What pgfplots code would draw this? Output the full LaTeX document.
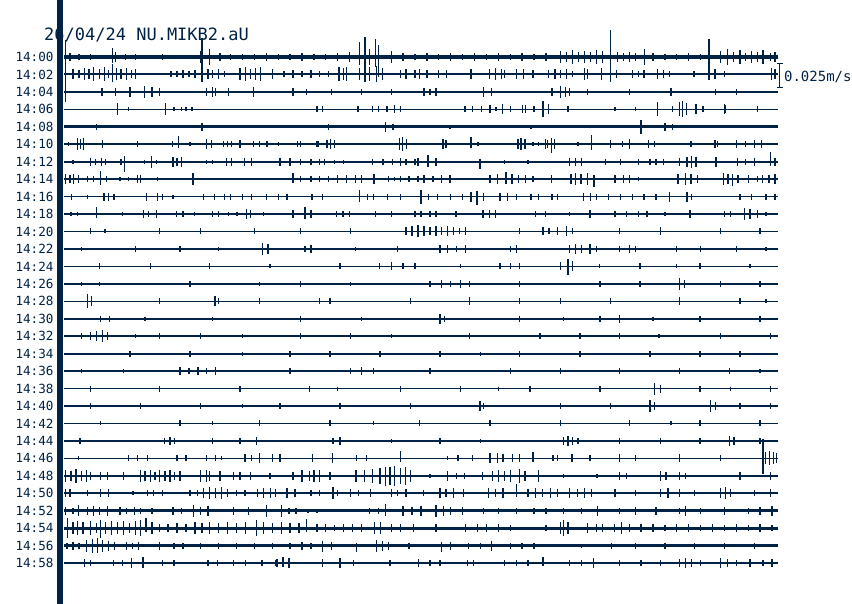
\documentclass[border=0pt]{standalone}
\usepackage{pgfplots}
\pgfplotsset{compat=1.18}
\usepackage{pgfplotstable}
\usepackage{fontspec}
\newfontfamily\mono{DejaVu Sans Mono}
\definecolor{navy}{HTML}{002244}

% spikes: x = seconds within 2-min row, r = row, a = half amplitude in mm/s (0.025 m/s = 25)
\pgfplotstableread{
x r a
1.0 0 4
2.5 0 3
4.4 0 3
8.6 0 5
10.3 0 3
12 0 3
14 0 2
16.5 0 3
19 0 2
22.9 0 6
24.5 0 8
26.2 0 4
28 0 3
30 0 3
32 0 3
34 0 4
36 0 3
38 0 3
40 0 4
42 0 3
44 0 3
46 0 4
48 0 5
51.4 0 8
55.1 0 6
57 0 4
59 0 3
61 0 4
63 0 3
65 0 4
67 0 3
69 0 4
71 0 3
73 0 4
75 0 3
77 0 4
79 0 3
81 0 4
83.5 0 6
84.5 0 5
85.5 0 7
86.5 0 5
87.5 0 6
88.5 0 5
89.5 0 7
90.5 0 6
93 0 5
94 0 4
95 0 5
96 0 4
97.6 0 8
99 0 4
101 0 3
103 0 3
105 0 4
107 0 3
110.3 0 6
111.5 0 8
112.5 0 5
113.6 0 7
114.5 0 4
115.5 0 6
116.5 0 5
117.5 0 7
118.7 0 4
119.5 0 5
1.5 1 5
2.5 1 4
3.5 1 6
4.2 1 5
5 1 7
6 1 5
6.8 1 7
7.5 1 4
8.8 1 6
9.6 1 5
10.5 1 6
11.3 1 4
12 1 5
18 1 3
19 1 3
20 1 4
21 1 3
22 1 4
24.2 1 5
25 1 4
26 1 5
27 1 3
29.6 1 6
30.5 1 7
31.3 1 5
32.2 1 6
33 1 7
35 1 5
37 1 3
38.5 1 4
40 1 3
41.5 1 4
43 1 3
44.5 1 3
46.2 1 7
47 1 6
47.5 1 7
49.7 1 6
50.6 1 8
51.4 1 7
52.5 1 8
53.5 1 6
56.5 1 4
57.5 1 5
59 1 4
59.8 1 5
61 1 4
63 1 4
64.3 1 4
68.4 1 5
71.5 1 5
72.5 1 6
73.5 1 5
74 1 4
76 1 5
77.2 1 5
78.8 1 4
81.4 1 4
82.5 1 5
83.5 1 4
84.5 1 5
85.5 1 3
87.5 1 6
88 1 5
90.3 1 6
92.8 1 4
95.5 1 4
96.5 1 3
97.5 1 4
99.7 1 5
100.7 1 4
101.8 1 3
105.9 1 3
109.4 1 5
111 1 3
118.9 1 6
119.5 1 5
6.4 2 4
8.6 2 4
11.1 2 5
13.5 2 6
14.8 2 5
16 2 4
24 2 4
25 2 5
25.5 2 4
27.6 2 4
31.8 2 5
38.5 2 4
40.8 2 3
45 2 3
50 2 3
55 2 3
60.5 2 4
61.5 2 3
62.5 2 4
70.5 2 5
71.8 2 4
82 2 4
83.5 2 6
84.3 2 5
85 2 4
88 2 3
95 2 3
102 2 4
109.5 2 3
113 2 3
9 3 6
10.8 3 2
17.1 3 6
18.5 3 2
19.8 3 2
20.5 3 2
21.5 3 2
42.5 3 3
43.5 3 3
49.4 3 3
51.8 3 3
52.8 3 3
54.3 3 3
55.5 3 4
56.5 3 3
67.4 3 3
68.7 3 3
70.2 3 3
71.6 3 4
72.6 3 2
73.7 3 5
75.1 3 3
77.1 3 4
77.6 3 4
79 3 3
80.5 3 8
81.4 3 5
84.7 3 3
92.6 3 2
96 3 2
99.8 3 7
102.3 3 3
103.5 3 7
104 3 8
104.6 3 6
106.2 3 5
107.4 3 3
111 3 5
111.2 3 4
116.6 3 3
5.5 4 3
23.2 4 4
44.4 4 3
54 4 5
55.3 4 3
64.9 4 2
78.5 4 2
97 4 7
101 4 4
102.3 4 3
0.7 5 2
2.3 5 6
2.8 5 5
3.3 5 6
6.5 5 4
12.4 5 3
18.2 5 3
21.2 5 2
24 5 5
24.8 5 4
26.8 5 3
27.5 5 3
28.2 5 3
29.6 5 4
31.8 5 3
32.9 5 3
34.1 5 3
36 5 2
39.3 5 3
39.7 5 3
42.5 5 3
42.7 5 3
44.2 5 4
44.8 5 5
45.5 5 4
56.4 5 6
56.9 5 7
57.6 5 5
63.7 5 5
64.2 5 4
69.6 5 2
76.3 5 5
76.8 5 6
77.5 5 5
78.8 5 2
79.7 5 2
80.9 5 5
81.3 5 4
82.4 5 5
86.4 5 2
91.9 5 4
93.9 5 3
95.1 5 5
98.2 5 4
99.3 5 3
105.4 5 3
109.4 5 4
109.8 5 3
113 5 4
114.5 5 3
116 5 4
117.2 5 4
1.5 6 2
4.5 6 4
5.3 6 3
6.3 6 4
7 6 3
9.6 6 3
13.5 6 2
14.7 6 6
15.5 6 2
18.3 6 5
19 6 4
19.7 6 5
24 6 2
24.9 6 2
27.3 6 4
28.1 6 4
30.3 6 4
31.5 6 4
36.3 6 4
38 6 4
39.7 6 3
41.5 6 3
43 6 3
43.8 6 3
45.5 6 2
47 6 2
51.9 6 3
53.6 6 3
55.2 6 3
56.5 6 4
57.5 6 3
59 6 3
59.5 6 4
62.5 6 4
74 6 2
78 6 2
85 6 4
86 6 4
87 6 4
91 6 3
93.5 6 3
96.5 6 3
98.5 6 3
99.5 6 3
100.7 6 3
103.5 6 4
104.7 6 5
105.5 6 6
106.2 6 5
109.6 6 5
113.2 6 4
114.5 6 3
116.1 6 4
119.5 6 4
0.2 7 5
1 7 4
1.6 7 5
2.4 7 4
3.9 7 3
5 7 3
7.2 7 3
9.4 7 2
10.8 7 2
12.4 7 4
12.9 7 4
15.7 7 2
21.7 7 6
39.8 7 3
41.5 7 3
43 7 3
44.5 7 3
46 7 4
47.5 7 4
49 7 4
50 7 4
52.1 7 5
54.5 7 3
55.5 7 2
56.5 7 3
58 7 3
59.5 7 3
60.5 7 4
62 7 3
63.5 7 4
64.9 7 4
71.6 7 4
72.8 7 5
75.3 7 5
76.4 7 4
77.6 7 4
78.8 7 3
81.9 7 4
85.2 7 5
86 7 6
86.9 7 5
88 7 6
92.6 7 4
94 7 4
95.1 7 4
96.5 7 2
103.2 7 5
104.4 7 6
105.4 7 5
106.5 7 4
110.8 7 6
111.6 7 5
113.3 7 4
115 7 4
116.5 7 3
117.4 7 4
118.5 7 4
119.5 7 5
1.3 8 3
3.9 8 2
6.7 8 4
7.5 8 4
8.4 8 3
13.9 8 4
15.7 8 4
16.5 8 3
18.3 8 2
23.5 8 3
25.3 8 3
27 8 3
28 8 3
30 8 3
31.5 8 3
34 8 3
36 8 3
37.5 8 3
41.7 8 3
43.5 8 3
51 8 3
52 8 3
54.4 8 3
56.5 8 3
60 8 7
61.3 8 3
62.8 8 3
65 8 3
67 8 3
68.4 8 5
70.5 8 4
73.3 8 4
74.5 8 4
76 8 3
78.5 8 3
79.7 8 3
82 8 3
83 8 3
87.3 8 4
88.5 8 4
89.5 8 3
91.5 8 3
93.5 8 3
95.5 8 3
97.5 8 3
99.5 8 3
101.8 8 5
104.7 8 5
105.5 8 3
113.6 8 3
115.5 8 3
118 8 3
119.5 8 3
1.2 9 2
2.3 9 2
9.8 9 2
13.4 9 4
14.2 9 3
15.5 9 4
18.9 9 3
20 9 3
21.9 9 2
25 9 3
26 9 3
27.7 9 2
29.1 9 2
30.7 9 5
31.3 9 4
33.5 9 2
38.5 9 4
41.5 9 4
45.8 9 3
46.9 9 3
48 9 3
52.3 9 3
55.1 9 3
59 9 3
60 9 3
61.5 9 3
62.5 9 3
65.9 9 3
70.4 9 4
71.5 9 4
72.5 9 4
79.3 9 3
80.9 9 3
85 9 2
88.4 9 4
92.6 9 3
94.5 9 3
96.5 9 3
98 9 3
101 9 2
105.2 9 4
111 9 3
112 9 3
115.3 9 5
116.5 9 4
118 9 2
4.4 10 3
6.9 10 2
16.1 10 3
22.9 10 3
32 10 3
39.7 10 3
48.1 10 3
57.5 10 4
58.5 10 5
59.5 10 6
60.5 10 5
61.5 10 4
62.5 10 5
63.5 10 4
64.5 10 5
65.5 10 4
66.5 10 3
67.5 10 4
76.6 10 3
80.5 10 4
81.5 10 3
83 10 4
84.5 10 5
85.5 10 3
93.4 10 3
100.2 10 4
110.3 10 3
117 10 3
3 11 2
12 11 3
19.5 11 3
26 11 2
33.4 11 6
34.3 11 5
40.5 11 3
41.5 11 4
49 11 2
56 11 3
63.2 11 4
64.5 11 4
66 11 3
67.5 11 4
75 11 3
76 11 4
85 11 4
86 11 5
87 11 4
88.4 11 5
89.5 11 3
93.4 11 3
95 11 4
96 11 3
103 11 3
107 11 3
113 11 3
118 11 2
6 12 3
14.5 12 3
24.5 12 3
34.6 12 2
46.4 12 3
53 12 3
55 12 4
57 12 3
59 12 3
66.6 12 2
73.3 12 3
75 12 3
76.6 12 3
83.4 12 4
85.5 12 5
90 12 2
96.8 12 3
103 12 2
106.9 12 3
115.3 12 2
3 13 2
6 13 2
21.2 13 3
32.9 13 2
39.7 13 3
48.1 13 2
61.5 13 3
63.5 13 4
65 13 3
66.6 13 4
68.2 13 3
76.6 13 3
90.1 13 3
96.8 13 3
103.5 13 6
104.3 13 4
110.3 13 3
117 13 3
4 14 7
4.6 14 5
16.1 14 3
25.4 14 5
26 14 3
32.9 14 3
43 14 3
44.7 14 3
58.2 14 3
68.2 14 4
76.6 14 3
83.4 14 3
91.8 14 3
103.5 14 4
113.6 14 3
118 14 2
6.1 15 3
7.7 15 3
13.6 15 2
25 15 2
39.7 15 3
50 15 2
63.2 15 5
64 15 3
76.6 15 3
84 15 2
90.1 15 3
93.4 15 4
99 15 2
106.9 15 3
117 15 3
3 16 3
4.5 16 4
5.5 16 5
6.5 16 6
7.3 16 4
12 16 2
16.1 16 3
22.9 16 3
30 16 2
39.7 16 3
48.1 16 3
55 16 2
68.2 16 3
80 16 3
86.7 16 3
93.4 16 3
100 16 2
110.3 16 3
118.7 16 3
11.1 17 3
21.2 17 3
30 17 2
38 17 3
44.7 17 3
53.1 17 3
63.2 17 3
70 17 2
76.6 17 3
86.7 17 3
98.5 17 3
106.9 17 3
113.6 17 3
3 18 2
10 18 2
19.5 18 4
21 18 3
22.5 18 4
24 18 3
25.5 18 4
38 18 3
48.1 18 3
50 18 4
52 18 3
61.5 18 3
75 18 3
83.4 18 3
93.4 18 3
103.5 18 3
111.9 18 3
117 18 2
4.4 19 3
16.1 19 3
29.6 19 3
41.3 19 3
46 19 2
56.5 19 3
66.6 19 3
73 19 2
78.3 19 3
90.1 19 3
99.3 19 6
100.2 19 4
106.9 19 3
112 19 2
118.7 19 3
4.4 20 3
12.8 20 3
22.9 20 3
30 20 2
36.3 20 3
46.4 20 3
58.2 20 3
69.9 20 5
70.5 20 3
83.4 20 3
91.8 20 3
98.5 20 6
99.3 20 4
108.6 20 6
109.5 20 4
113.6 20 3
118.7 20 3
6.1 21 2
19.5 21 3
25 21 2
32.9 21 3
44.7 21 3
52 21 2
59.8 21 3
71.6 21 3
83.4 21 3
95.1 21 3
102 21 2
106.9 21 3
117 21 3
2.7 22 3
16.9 22 3
17.8 22 4
18.6 22 3
25 22 3
29.6 22 3
32.4 22 4
45.2 22 3
46.4 22 4
55 22 2
63.2 22 3
70 22 2
83.9 22 4
84.7 22 5
85.5 22 4
86.4 22 3
93.4 22 3
100.2 22 3
106.9 22 3
111.9 22 5
112.6 22 4
117 22 3
2.4 23 2
10.8 23 3
12.4 23 3
14 23 3
19 23 3
20.5 23 3
24 23 3
25.5 23 3
26.5 23 2
30.4 23 4
31.5 23 3
32.9 23 5
35 23 4
36.3 23 4
41.8 23 4
45.1 23 5
49.2 23 3
50.9 23 3
64.4 23 2
66.2 23 3
68.6 23 3
71.6 23 5
72.8 23 5
73.8 23 4
75.4 23 4
76.6 23 4
82.2 23 3
82.9 23 3
85.4 23 4
88.4 23 3
93.4 23 4
96 23 3
103.5 23 4
110.3 23 3
117.9 23 6
118.6 23 7
119.3 23 6
119.8 23 5
0.3 24 6
1.2 24 5
2 24 7
3 24 5
3.8 24 6
4.5 24 4
6.1 24 4
7.3 24 4
10 24 4
12.8 24 6
13.6 24 5
14.5 24 6
15.3 24 4
16.1 24 6
17 24 5
17.8 24 6
18.6 24 4
19.5 24 5
22.9 24 6
24 24 6
24.5 24 5
26.2 24 5
28.5 24 4
29.6 24 4
31.3 24 4
34.6 24 3
38.5 24 4
40 24 6
41.3 24 5
42 24 6
43 24 6
44.7 24 4
49.1 24 6
50.5 24 6
51.8 24 7
53.1 24 8
54.8 24 9
55.6 24 10
56.5 24 8
57.4 24 9
58.2 24 6
61.5 24 2
64.5 24 5
66 24 3
67.3 24 3
70.3 24 4
72 24 5
73 24 6
74 24 5
75 24 6
76.5 24 7
77.5 24 5
79.7 24 6
83.9 24 2
89.6 24 2
93.4 24 4
94.5 24 3
100.2 24 5
101.2 24 4
103.5 24 4
104.5 24 3
113.6 24 4
118.7 24 4
0.3 25 4
1 25 4
3.9 25 3
6.1 25 4
7.5 25 4
11.6 25 2
14 25 3
15 25 3
16.6 25 3
21.2 25 3
22.4 25 3
23.5 25 5
24.5 25 6
25.5 25 5
26.5 25 6
27.5 25 4
29 25 3
30.4 25 3
32.5 25 4
33.5 25 5
34.7 25 5
35.6 25 4
37.5 25 5
38.8 25 4
41.5 25 3
43 25 3
45.2 25 6
46 25 3
48.2 25 4
49.5 25 3
51.5 25 4
55 25 4
56 25 3
57.5 25 4
60.4 25 3
63.2 25 5
64.2 25 4
65.5 25 5
67.2 25 4
71.4 25 5
72.5 25 4
73.8 25 5
78 25 4
79.2 25 5
80.4 25 4
81.8 25 5
83 25 4
85 25 5
86.3 25 4
87.5 25 5
88.6 25 4
92.6 25 4
96 25 3
100.2 25 4
101.5 25 5
103.5 25 4
106 25 3
110.3 25 5
111.2 25 6
112 25 4
116 25 3
118.7 25 4
0.3 26 4
1.5 26 3
4 26 4
5 26 5
6 26 4
7.3 26 5
9.4 26 4
10.5 26 3
11.8 26 4
12.9 26 3
14.8 26 3
18.3 26 4
19.8 26 3
21.8 26 6
23 26 4
24.2 26 5
28.5 26 4
31 26 4
34 26 6
36.6 26 6
37.8 26 3
39 26 3
41 26 2
42.5 26 2
51.4 26 3
52.8 26 3
57 26 5
58.5 26 4
60 26 5
62.5 26 6
63.8 26 5
65 26 4
67 26 4
70.5 26 3
73 26 3
76 26 3
79 26 3
81 26 3
84 26 3
87 26 3
89.7 26 5
93.4 26 3
96 26 4
99.5 26 4
103.5 26 3
104.5 26 5
107 26 3
111 26 4
115 26 3
117 26 4
119 26 5
1.5 27 6
2.3 27 7
3.2 27 6
4.5 27 7
5.5 27 5
7 27 6
8 27 7
9 27 6
10 27 7
11 27 5
12 27 7
12.9 27 8
14.8 27 6
16 27 4
17.5 27 4
19 27 5
20.5 27 4
22 27 6
23.2 27 5
24.5 27 6
26 27 5
27.5 27 6
29 27 5
30.5 27 6
32.3 27 8
33.5 27 6
35 27 5
36.5 27 6
38 27 5
39.5 27 5
42.5 27 4
44 27 4
45.5 27 3
47 27 4
48.5 27 4
50 27 4
52.2 27 6
53.2 27 6
55 27 4
56.5 27 4
58.7 27 4
62.5 27 4
67.5 27 4
69.5 27 4
71 27 4
73 27 4
75 27 3
81 27 3
83.4 27 6
84 27 8
84.7 27 6
88 27 5
89.5 27 4
90.5 27 4
92.5 27 4
93.7 27 6
95 27 4
97 27 4
99 27 4
101 27 3
103 27 4
105 27 4
107 27 3
109 27 4
111 27 3
113 27 4
115 27 3
117 27 4
119 27 3
0.5 28 3
1.5 28 4
2.5 28 3
3.8 28 6
4.8 28 7
6.5 28 6
7.5 28 5
8.5 28 4
10.5 28 4
11.5 28 3
12.5 28 4
16.1 28 4
18.5 28 3
20 28 3
22.9 28 3
26 28 3
29 28 3
32 28 3
35 28 3
38 28 3
40 28 4
41.5 28 3
45 28 4
52.5 28 6
53.5 28 5
54.5 28 4
58 28 3
65 28 4
68 28 3
70 28 3
71.8 28 5
75 28 3
77 28 3
79 28 3
87 28 2
92 28 3
96 28 3
101 28 3
106 28 3
111 28 3
116 28 3
3.4 29 4
4.5 29 3
8.3 29 3
9.8 29 3
11.4 29 5
16.5 29 3
18.5 29 3
24.2 29 3
25.8 29 3
28.5 29 3
30.5 29 3
33.3 29 3
35.5 29 3
35.8 29 4
37.8 29 5
43.5 29 4
46.4 29 5
48.6 29 3
54.8 29 3
59.6 29 4
61.5 29 3
63.2 29 3
67.8 29 3
68.8 29 3
74 29 3
76 29 3
78 29 3
85 29 3
87 29 3
93.4 29 3
97 29 3
100.2 29 3
103.5 29 4
104.5 29 5
105.5 29 4
107 29 3
110.3 29 5
111.5 29 4
113 29 3
115.3 29 4
117.5 29 3
119 29 4
}\spikes

% larger, asymmetric deflections: up / dn in mm/s
\pgfplotstableread{
x r up dn
8.1 0 9 6
23.2 0 19 25
49.7 0 15 8
50.6 0 20 12
52.3 0 18 10
52.8 0 12 20
91.8 0 27 25
108.4 0 18 23
0.2 1 34 28
8.1 1 10 8
19.2 5 8 4
68.4 5 7 4
81.9 5 6 9
88.6 5 9 6
10.2 6 6 10
61.2 6 7 5
69.9 6 3 7
118.7 6 10 4
6.1 7 8 6
38.5 7 6 4
74.3 7 7 5
89.1 7 4 8
112.4 7 5 7
49.7 8 7 5
69.4 8 6 8
5.5 9 7 4
40.5 9 7 5
114.4 9 6 6
84.7 12 7 9
56.5 23 7 4
78.8 23 6 4
117.5 23 19 16
54 24 9 10
76.1 25 9 4
2.4 26 6 5
54 26 7 5
0.6 27 10 10
6.1 27 8 10
13.8 27 10 4
40.7 27 9 4
5.6 28 8 7
43.5 28 5 6
49.2 28 3 6
63.5 28 4 6
13.3 29 6 5
36.8 29 6 4
80.5 29 6 3
89 29 5 5
}\bigspikes

\newcommand{\base}[2]{\addplot[navy, line width=#2pt, forget plot] coordinates {(0,#1) (120,#1)};}

\begin{document}
\begin{tikzpicture}
\useasboundingbox (-57pt,0pt) rectangle (795pt,-604pt);
\node[anchor=base west, inner sep=0pt, text=navy, font=\mono\fontsize{17}{18}\selectfont] at (-13pt,-40.5pt) {26/04/24 NU.MIKB2.aU};
\begin{axis}[
  at={(0pt,0pt)}, anchor=north west,
  scale only axis, width=795pt, height=604pt,
  xmin=-1.176, xmax=132.44, ymin=-3.267, ymax=31.35,
  y dir=reverse, clip=false,
  axis line style={draw=none},
  xtick=\empty,
  ytick={0,...,29},
  yticklabels={14:00,14:02,14:04,14:06,14:08,14:10,14:12,14:14,14:16,14:18,14:20,14:22,14:24,14:26,14:28,14:30,14:32,14:34,14:36,14:38,14:40,14:42,14:44,14:46,14:48,14:50,14:52,14:54,14:56,14:58},
  major tick length=0pt,
  yticklabel style={font=\mono\fontsize{12.6}{13}\selectfont, text=navy},
]
\base{0}{3.5}\base{1}{2}\base{2}{2.5}\base{3}{1.5}\base{4}{3}
\base{5}{1.5}\base{6}{2}\base{7}{2}\base{8}{1.8}\base{9}{1.8}
\base{10}{1.8}\base{11}{1.8}\base{12}{1.5}\base{13}{1.8}\base{14}{1.5}
\base{15}{1.8}\base{16}{1.8}\base{17}{2.2}\base{18}{1.8}\base{19}{1.8}
\base{20}{1.8}\base{21}{1.5}\base{22}{1.8}\base{23}{1.5}\base{24}{2.5}
\base{25}{2}\base{26}{2.5}\base{27}{3}\base{28}{2.5}\base{29}{2}

% each deflection: a vertical stroke from r-up to r+dn
\addplot[navy, line width=1.3pt, mark=none, quiver={u=0, v=2*\thisrow{a}/17.45}]
  table[x=x, y expr=\thisrow{r}-\thisrow{a}/17.45] {\spikes};
\addplot[navy, line width=1.3pt, mark=none, quiver={u=0, v=(\thisrow{up}+\thisrow{dn})/17.45}]
  table[x=x, y expr=\thisrow{r}-\thisrow{up}/17.45] {\bigspikes};

% left time bar
\addplot[navy, line width=6pt] coordinates {(-0.672,-3.267) (-0.672,31.35)};
% amplitude scale: 0.025 m/s
\addplot[navy, line width=1pt, mark=none] coordinates {(120.3,0.344) (120.3,1.776)};
\addplot[navy, line width=1pt, mark=none] coordinates {(119.8,0.344) (120.85,0.344)};
\addplot[navy, line width=1pt, mark=none] coordinates {(119.8,1.776) (120.85,1.776)};
\node[anchor=base west, inner sep=0pt, text=navy, font=\mono\fontsize{14}{15}\selectfont] at (axis cs:121.0,1.43) {0.025m/s};
\end{axis}
\end{tikzpicture}
\end{document}
